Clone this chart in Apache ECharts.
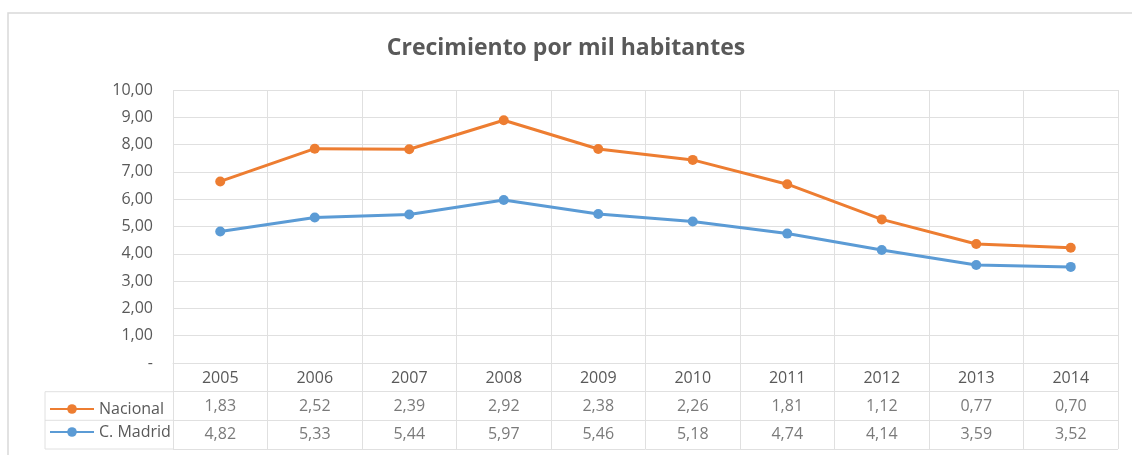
<!DOCTYPE html>
<html>
<head>
<meta charset="utf-8">
<script src="https://cdn.jsdelivr.net/npm/echarts@6/dist/echarts.min.js"></script>
<style>
  html, body { margin: 0; padding: 0; background: #fff; }
  #main { width: 1132px; height: 455px; }
</style>
</head>
<body>
<div id="main"></div>
<script>
// crecimiento por mil habitantes (linea apilada + tabla de datos)
var years = ['2005', '2006', '2007', '2008', '2009', '2010', '2011', '2012', '2013', '2014'];
var nacional = [1.83, 2.52, 2.39, 2.92, 2.38, 2.26, 1.81, 1.12, 0.77, 0.70];
var madrid = [4.82, 5.33, 5.44, 5.97, 5.46, 5.18, 4.74, 4.14, 3.59, 3.52];

var textColor = '#595959';
var gridColor = '#e0e0e0';
var font = 'Open Sans';

function fmt(v) {
    return v.toFixed(2).replace('.', ',');
}

var myChart = echarts.init(document.getElementById('main'));

var option = {
    animation: false,
    textStyle: { fontFamily: font },
    title: {
        text: 'Crecimiento por mil habitantes',
        left: 'center',
        top: 32,
        textStyle: { fontSize: 23, fontWeight: 'bold', color: textColor, fontFamily: font }
    },
    legend: {
        data: ['Nacional', 'C. Madrid'],
        orient: 'vertical',
        left: 44,
        top: 396,
        itemWidth: 44,
        itemHeight: 12,
        itemGap: 7,
        textStyle: { color: textColor, fontSize: 16, fontFamily: font }
    },
    grid: [
        { left: 173, right: 14, top: 90, height: 273 },
        { left: 173, right: 14, top: 363, height: 86 }
    ],
    xAxis: [{
        gridIndex: 0,
        type: 'category',
        data: years,
        boundaryGap: true,
        axisLine: { lineStyle: { color: gridColor } },
        axisTick: { show: false },
        axisLabel: { color: textColor, fontSize: 16, margin: 7 },
        splitLine: { show: true, lineStyle: { color: gridColor } }
    }, {
        gridIndex: 1,
        type: 'category',
        data: years,
        boundaryGap: true,
        axisLine: { show: false },
        axisTick: { show: false },
        axisLabel: { show: false },
        splitLine: { show: true, lineStyle: { color: gridColor } }
    }],
    yAxis: [{
        gridIndex: 0,
        type: 'value',
        min: 0,
        max: 10,
        interval: 1,
        axisLine: { show: false },
        axisTick: { show: false },
        axisLabel: {
            color: textColor,
            fontSize: 16,
            margin: 20,
            formatter: function (v) { return v === 0 ? '-' : fmt(v); }
        },
        splitLine: { lineStyle: { color: gridColor } }
    }, {
        gridIndex: 1,
        type: 'value',
        min: 0,
        max: 3,
        interval: 1,
        inverse: true,
        axisLine: { show: false },
        axisTick: { show: false },
        axisLabel: { show: false },
        splitLine: { lineStyle: { color: gridColor } }
    }],
    graphic: [
        { type: 'rect', shape: { x: 8, y: 13, width: 1130, height: 460 }, style: { fill: 'none', stroke: '#d9d9d9', lineWidth: 1.5 } },
        { type: 'line', shape: { x1: 45, y1: 391.7, x2: 173, y2: 391.7 }, style: { stroke: gridColor } },
        { type: 'line', shape: { x1: 45, y1: 420.3, x2: 173, y2: 420.3 }, style: { stroke: gridColor } },
        { type: 'line', shape: { x1: 45, y1: 449, x2: 173, y2: 449 }, style: { stroke: gridColor } },
        { type: 'line', shape: { x1: 45, y1: 391.7, x2: 45, y2: 449 }, style: { stroke: gridColor } }
    ],
    series: [{
        name: 'C. Madrid',
        type: 'line',
        stack: 'total',
        data: madrid,
        color: '#5B9BD5',
        symbol: 'circle',
        symbolSize: 10,
        lineStyle: { width: 3 }
    }, {
        name: 'Nacional',
        type: 'line',
        stack: 'total',
        data: nacional,
        color: '#ED7D31',
        symbol: 'circle',
        symbolSize: 10,
        lineStyle: { width: 3 }
    }, {
        name: 'tablaNacional',
        type: 'scatter',
        xAxisIndex: 1,
        yAxisIndex: 1,
        symbolSize: 1,
        itemStyle: { color: 'rgba(0,0,0,0)' },
        data: nacional.map(function (v, i) { return [i, 1.5, v]; }),
        label: {
            show: true,
            position: 'inside',
            color: textColor,
            fontSize: 16,
            formatter: function (p) { return fmt(p.value[2]); }
        }
    }, {
        name: 'tablaMadrid',
        type: 'scatter',
        xAxisIndex: 1,
        yAxisIndex: 1,
        symbolSize: 1,
        itemStyle: { color: 'rgba(0,0,0,0)' },
        data: madrid.map(function (v, i) { return [i, 2.5, v]; }),
        label: {
            show: true,
            position: 'inside',
            color: textColor,
            fontSize: 16,
            formatter: function (p) { return fmt(p.value[2]); }
        }
    }]
};

myChart.setOption(option);
window.addEventListener('resize', function () {
    myChart.resize();
});
</script>
</body>
</html>
